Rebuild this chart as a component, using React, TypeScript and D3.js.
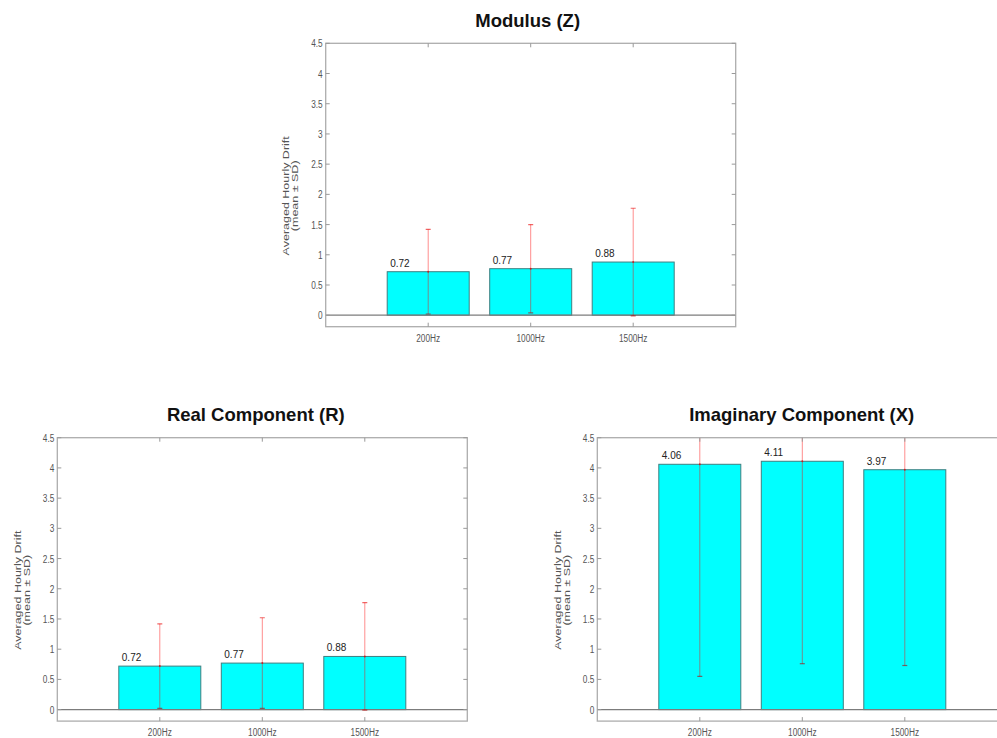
import React from "react";
import * as d3 from "d3";

const categories = ["200Hz", "1000Hz", "1500Hz"];
const modulusMean = [0.72, 0.77, 0.88];
const modulusSD = [0.7, 0.73, 0.89];
const realMean = [0.72, 0.77, 0.88];
const realSD = [0.7, 0.75, 0.89];
const imagMean = [4.06, 4.11, 3.97];
const imagSD = [3.51, 3.35, 3.24];
const yTickValues = [0, 0.5, 1, 1.5, 2, 2.5, 3, 3.5, 4, 4.5];
const yLabelLines = ["Averaged Hourly Drift", "(mean \u00b1 SD)"];

const W = 410;
const H = 283.4;

type ChartProps = {
  id: string;
  title: string;
  means: number[];
  sds: number[];
  left: number;
  top: number;
  titleDx: number;
};

function Chart({ id, title, means, sds, left, top, titleDx }: ChartProps) {
  const x = d3.scaleLinear().domain([0, categories.length + 1]).range([left, left + W]);
  const y = d3.scaleLinear().domain([-0.19, 4.5]).range([top + H, top]);
  const bw = x(0.8) - x(0);
  const bottom = top + H;
  const right = left + W;
  const frame = "#adadad";
  const tickCol = "#999";
  return (
    <g>
      <defs>
        <clipPath id={`clip-${id}`}>
          <rect x={left} y={top} width={W} height={H} />
        </clipPath>
      </defs>
      <text
        x={(left + right) / 2 + titleDx}
        y={top - 16.5}
        textAnchor="middle"
        fontSize={18.5}
        fontWeight="bold"
        fill="#111"
      >
        {title}
      </text>
      {/* bars */}
      {means.map((m, i) => (
        <rect
          key={`b${i}`}
          x={x(i + 1) - bw / 2}
          y={y(m)}
          width={bw}
          height={y(0) - y(m)}
          fill="#00ffff"
          stroke="#3f7f80"
          strokeWidth={1}
        />
      ))}
      {/* zero line */}
      <line x1={left} x2={right} y1={y(0)} y2={y(0)} stroke="#7c7c7c" strokeWidth={1.3} />
      {/* error bars */}
      <g clipPath={`url(#clip-${id})`}>
        {means.map((m, i) => {
          const cx = x(i + 1);
          const lo = y(m - sds[i]);
          const hi = y(m + sds[i]);
          return (
            <g key={`e${i}`}>
              <line x1={cx} x2={cx} y1={hi} y2={lo} stroke="rgba(255,0,0,0.45)" strokeWidth={1} />
              <line x1={cx - 2.5} x2={cx + 2.5} y1={hi} y2={hi} stroke="rgba(230,0,0,0.6)" strokeWidth={1.2} />
              <line x1={cx - 2.5} x2={cx + 2.5} y1={lo} y2={lo} stroke="rgba(180,0,0,0.6)" strokeWidth={1.2} />
              <circle cx={cx} cy={y(m)} r={1} fill="rgba(220,0,0,0.7)" />
            </g>
          );
        })}
      </g>
      {/* value labels */}
      {means.map((m, i) => (
        <text
          key={`v${i}`}
          x={x(i + 1) - bw / 2 + 3}
          y={y(m) - 5}
          fontSize={10}
          fill="#222"
        >
          {m.toFixed(2)}
        </text>
      ))}
      {/* frame */}
      <rect x={left} y={top} width={W} height={H} fill="none" stroke={frame} strokeWidth={1.3} />
      {/* y ticks */}
      {yTickValues.map((t) => (
        <g key={`yt${t}`}>
          <line x1={left} x2={left + 4} y1={y(t)} y2={y(t)} stroke={tickCol} strokeWidth={1} />
          <line x1={right - 4} x2={right} y1={y(t)} y2={y(t)} stroke={tickCol} strokeWidth={1} />
          <text
            transform={`translate(${left - 3},${y(t) + 4}) scale(0.72,1)`}
            textAnchor="end"
            fontSize={11.5}
            fill="#555"
          >
            {String(t)}
          </text>
        </g>
      ))}
      {/* x ticks */}
      {categories.map((c, i) => (
        <g key={`xt${c}`}>
          <line x1={x(i + 1)} x2={x(i + 1)} y1={bottom} y2={bottom - 4} stroke={tickCol} strokeWidth={1} />
          <line x1={x(i + 1)} x2={x(i + 1)} y1={top} y2={top + 4} stroke={tickCol} strokeWidth={1} />
          <text
            transform={`translate(${x(i + 1)},${bottom + 15}) scale(0.72,1)`}
            textAnchor="middle"
            fontSize={11.5}
            fill="#555"
          >
            {c}
          </text>
        </g>
      ))}
      {/* y label */}
      {yLabelLines.map((l, k) => (
        <text
          key={`yl${k}`}
          transform={`translate(${left - 36.5 + k * 9},${top + 152.5}) scale(0.74,1) rotate(-90)`}
          textAnchor="middle"
          fontSize={12.5}
          fill="#555"
        >
          {l}
        </text>
      ))}
    </g>
  );
}

export default function App() {
  return (
    <svg
      width={997}
      height={738}
      style={{ position: "absolute", left: 0, top: 0, background: "#fff" }}
      fontFamily="Liberation Sans, Arial, sans-serif"
    >
      <Chart id="mod" title="Modulus (Z)" means={modulusMean} sds={modulusSD} left={325.7} top={43.3} titleDx={-3} />
      <Chart id="real" title="Real Component (R)" means={realMean} sds={realSD} left={57.3} top={437.7} titleDx={-6.5} />
      <Chart id="imag" title="Imaginary Component (X)" means={imagMean} sds={imagSD} left={597.3} top={437.7} titleDx={-0.6} />
    </svg>
  );
}
